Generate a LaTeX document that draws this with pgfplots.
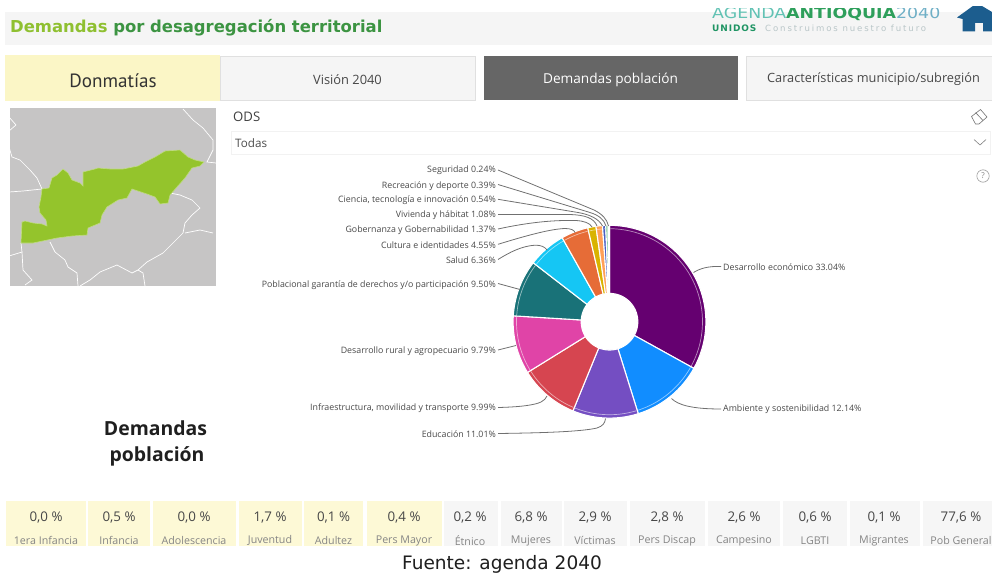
\documentclass[border=0pt]{standalone}
\usepackage{pgfplots}
\pgfplotsset{compat=1.18}
\usepackage{fontspec}
\setmainfont{Open Sans}
\newfontfamily\dejavu{DejaVu Sans}
\newfontfamily\pts{PT Sans}
\definecolor{cA}{HTML}{650070}
\definecolor{cB}{HTML}{118DFF}
\definecolor{cC}{HTML}{744EC2}
\definecolor{cD}{HTML}{D64550}
\definecolor{cE}{HTML}{E044A7}
\definecolor{cF}{HTML}{197278}
\definecolor{cG}{HTML}{15C6F4}
\definecolor{cH}{HTML}{E66C37}
\definecolor{cI}{HTML}{D9B300}
\definecolor{cJ}{HTML}{FFA058}
\definecolor{cK}{HTML}{4A5FC2}
\definecolor{cL}{HTML}{6FBF8F}
\definecolor{cM}{HTML}{9FD0D6}
\definecolor{lbl}{HTML}{484848}
\definecolor{lead}{HTML}{707070}
\definecolor{ygreen}{HTML}{8FC031}
\definecolor{dgreen}{HTML}{3C9442}
\definecolor{paleY}{HTML}{FBF6C6}
\definecolor{cardY}{HTML}{FDF9D6}
\definecolor{cardG}{HTML}{F6F6F6}
\definecolor{mapgrey}{HTML}{C6C5C5}
\definecolor{mapgreen}{HTML}{94C42C}
\definecolor{homeblue}{HTML}{1C5D8E}
% start (cumulative percent), share (percent), colour: the shares are the chart's values
\newcommand{\slice}[3]{%
  \addplot[fill=#3,draw=white,line width=1.1pt,domain=0:2.025,samples=82,variable=\t]
   ({609.5+(\t<1.02?96.4:28.3)*sin(3.6*(#1+#2*(\t<1.02?\t:2.025-\t)))},
    {321.7-(\t<1.02?96.4:28.3)*cos(3.6*(#1+#2*(\t<1.02?\t:2.025-\t)))}) -- cycle;
  \addplot[white,opacity=.55,line width=.7pt,domain=0:1,samples=40,variable=\t]
   ({609.5+93*sin(3.6*(#1+0.15+(#2-0.3)*\t))},{321.7-93*cos(3.6*(#1+0.15+(#2-0.3)*\t))});
}
\newcommand{\card}[6]{% x0 x1 colour value label centre
  \fill[#3] (#1,501) rectangle (#2,545.6);
  \node[font=\fontsize{13.4}{14}\selectfont,text=black!72] at (#6,518) {#4};
  \node[font=\fontsize{10.7}{12}\selectfont,text=black!48] at (#6,540.5) {#5};
}
\newcommand{\lab}[3]{\node[anchor=east,inner sep=0,font=\fontsize{8.85}{10}\selectfont,text=lbl] at (#1,#2+0.7) {#3};}
\begin{document}
\begin{tikzpicture}
\begin{axis}[hide axis,scale only axis,width=992bp,height=573bp,
  xmin=0,xmax=992,ymin=0,ymax=573,y dir=reverse,axis on top=false]
% header
\fill[black!4] (5,12) rectangle (992,45.5);
\node[anchor=west,inner sep=0,font=\dejavu\bfseries\fontsize{16.5}{18}\selectfont] at (10,27.5)
  {\textcolor{ygreen}{Demandas} \textcolor{dgreen}{por desagregación territorial}};
% logo
\node[anchor=base west,inner sep=0,font=\dejavu\fontsize{15}{16}\selectfont] at (712,18.5)
  {\scalebox{1.163}[1]{\textcolor[HTML]{62C2B4}{AGENDA}\textcolor[HTML]{2E9F5B}{\bfseries ANTIOQUIA}\textcolor[HTML]{6FAFC6}{2040}}};
\node[anchor=base west,inner sep=0,font=\dejavu\fontsize{9}{10}\selectfont] at (712,31.5)
  {\addfontfeature{LetterSpace=10}\textcolor[HTML]{1E9463}{\bfseries UNIDOS}};
\node[anchor=base west,inner sep=0,font=\dejavu\fontsize{8.6}{10}\selectfont] at (765,31.5)
  {\addfontfeature{LetterSpace=22}\textcolor[HTML]{B9C6C8}{Construimos nuestro futuro}};
% home icon
\fill[homeblue] (957,17.5) -- (977,3) -- (992,12) -- (992,31.5) -- (983,31.5) -- (983,23) -- (975,23) -- (975,31.5) -- (962.5,31.5) -- (962.5,19) -- cycle;
\fill[white] (950,0) rectangle (992,6.5);
\fill[white] (700,0) rectangle (950,8);
% tabs
\fill[paleY] (5,55) rectangle (220,101.5);
\node[font=\pts\fontsize{19.2}{20}\selectfont,text=black!80] at (113,81) {Donmatías};
\filldraw[fill=black!4,draw=black!12,line width=.6pt] (220.5,56) rectangle (475.5,100);
\node[font=\fontsize{12.9}{14}\selectfont,text=black!72] at (347.5,79.5) {Visión 2040};
\fill[black!60] (484,56) rectangle (738,100);
\node[font=\fontsize{13.7}{15}\selectfont,text=white] at (610.5,79.5) {Demandas población};
\filldraw[fill=black!4,draw=black!12,line width=.6pt] (746.5,56) rectangle (993,100);
\node[font=\fontsize{12.8}{14}\selectfont,text=black!72] at (873.5,79.5) {Características municipio/subregión};
% filter
\node[anchor=west,inner sep=0,font=\fontsize{13.2}{15}\selectfont,text=black!75] at (233,117) {ODS};
\draw[black!5,line width=.8pt] (231,131) rectangle (990,154);
\node[anchor=west,inner sep=0,font=\fontsize{11.7}{13}\selectfont,text=black!70] at (235,143.5) {Todas};
\draw[black!50,line width=.6pt] (974,139.5) -- (980,145) -- (986,139.5);
\draw[black!55,line width=.6pt] (971.5,116.5) -- (980.5,109.5) -- (987,117) -- (979,124) -- (975.5,124) -- cycle (975.5,112.5) -- (983,120.5);
\draw[black!40,line width=.6pt] (983,176) circle[radius=6.2];
\node[font=\fontsize{8}{9}\selectfont,text=black!50] at (983,176) {?};
% map
\fill[mapgrey] (9.5,108.5) rectangle (216,286);
\addplot[white,line width=.7pt] coordinates {(183,109)(193,120)(203,128)(213,140)(213,150)(207,162)(216,163)};
\addplot[white,line width=.7pt] coordinates {(9,117)(16,125)(9,131)};
\addplot[white,line width=.7pt] coordinates {(9,147)(12,157)(20,160)(30,170)(37,178)(42,189)};
\addplot[white,line width=.7pt] coordinates {(9,192)(23,191)(42,189)};
\addplot[white,line width=.7pt] coordinates {(21,243)(22,252)(9,256)};
\addplot[white,line width=.7pt] coordinates {(22,252)(23,270)(32,280)(25,285)};
\addplot[white,line width=.7pt] coordinates {(50,242)(55,252)(65,260)(68,267)(77,273)(78,286)};
\addplot[white,line width=.7pt] coordinates {(80,286)(90,280)(100,272)(117,265)(132,273)(138,270)(143,273)(145,286)};
\addplot[white,line width=.7pt] coordinates {(138,270)(147,262)(163,253)(173,243)(183,233)(185,223)(192,215)(200,208)(192,200)(180,195)(170,193)};
\addplot[white,line width=.7pt] coordinates {(185,233)(200,230)(213,233)};
\addplot[fill=mapgreen,draw=white!40!mapgreen,line width=.6pt] coordinates {
 (21,243)(22,222)(25,221)(33,223)(42,224)(47,226)(46,220)(40,213)(39,207)(41,197)(42,189)(49,188)(52,178)(57,175)(63,169)(68,173)(72,180)(80,183)(83,186)(83,172)(95,169)(98,168)(110,169)(123,169)(138,166)(145,162)(155,157)(165,151)(180,150)(188,157)(195,160)(204,162)(200,166)(192,168)(185,178)(177,187)(170,195)(168,203)(160,204)(155,197)(147,194)(132,189)(127,198)(118,200)(107,207)(102,215)(100,223)(88,228)(87,235)(72,236)(57,238)(33,243)(21,243)} -- cycle;
% donut: start, share
\slice{0}{33.04}{cA}
\slice{33.04}{12.14}{cB}
\slice{45.18}{11.01}{cC}
\slice{56.19}{9.99}{cD}
\slice{66.18}{9.79}{cE}
\slice{75.97}{9.50}{cF}
\slice{85.47}{6.36}{cG}
\slice{91.83}{4.55}{cH}
\slice{96.38}{1.37}{cI}
\slice{97.75}{1.08}{cJ}
\slice{98.83}{0.54}{cK}
\slice{99.37}{0.39}{cL}
\slice{99.76}{0.24}{cM}
% leaders
\begin{scope}[lead,line width=.8pt]
\draw (498,170) -- (594,210) .. controls (602,214) and (607,219) .. (608.5,226);
\draw (498,184.5) -- (590,212.5) .. controls (598,215) and (604,219) .. (606,226);
\draw (498,199.3) -- (578,212.5) .. controls (590,214.5) and (599,219) .. (602.5,226);
\draw (498,214.5) -- (570,214.5) .. controls (585,215) and (594,218) .. (597,226);
\draw (498,229) .. controls (530,222) and (555,220) .. (576,220.5) .. controls (584,221) and (590,223) .. (592,227);
\draw (498,244.3) .. controls (525,236) and (550,229) .. (565,228.5) .. controls (571,228.5) and (574,230) .. (575,232.5);
\draw (498,259.5) .. controls (510,252) and (522,246) .. (535,245.2) .. controls (541,245) and (545,247) .. (547,250);
\draw (498,283.5) -- (520,289.5);
\draw (498,350) -- (516,345.5);
\draw (498,407.5) .. controls (520,407) and (535,405) .. (541,402) .. controls (544,400.5) and (546,398.5) .. (547,396);
\draw (498,433.5) .. controls (535,433) and (580,432) .. (597,428) .. controls (603,426) and (605,423) .. (605.5,418.5);
\draw (693.5,272.5) .. controls (700,268.5) and (708,266) .. (721,266.5);
\draw (671.5,398.5) .. controls (678,405) and (692,409) .. (721,409);
\end{scope}
% labels
\lab{496}{170}{Seguridad 0.24\%}
\lab{496}{185}{Recreación y deporte 0.39\%}
\lab{496}{199.5}{Ciencia, tecnología e innovación 0.54\%}
\lab{496}{214.5}{Vivienda y hábitat 1.08\%}
\lab{496}{229.5}{Gobernanza y Gobernabilidad 1.37\%}
\lab{496}{244.5}{Cultura e identidades 4.55\%}
\lab{496}{259.5}{Salud 6.36\%}
\lab{496}{284}{Poblacional garantía de derechos y/o participación 9.50\%}
\lab{496}{350.5}{Desarrollo rural y agropecuario 9.79\%}
\lab{496}{407.5}{Infraestructura, movilidad y transporte 9.99\%}
\lab{496}{433.5}{Educación 11.01\%}
\node[anchor=west,inner sep=0,font=\fontsize{8.85}{10}\selectfont,text=lbl] at (723,267.5) {Desarrollo económico 33.04\%};
\node[anchor=west,inner sep=0,font=\fontsize{8.85}{10}\selectfont,text=lbl] at (723,409) {Ambiente y sostenibilidad 12.14\%};
% side title
\node[font=\bfseries\fontsize{19.5}{21}\selectfont,text=black!88] at (155.5,428.5) {Demandas};
\node[font=\bfseries\fontsize{19.5}{21}\selectfont,text=black!88] at (157,456.5) {población};
% cards
\card{6}{86}{cardY}{0,0 \%}{1era Infancia}{46}
\card{88}{150}{cardY}{0,5 \%}{Infancia}{119}
\card{153}{236}{cardY}{0,0 \%}{Adolescencia}{194}
\card{239}{302}{cardY}{1,7 \%}{Juventud}{270}
\card{304}{363}{cardY}{0,1 \%}{Adultez}{333.5}
\card{367}{442}{cardY}{0,4 \%}{Pers Mayor}{404}
\card{444}{498}{cardG}{0,2 \%}{Étnico}{470}
\card{501}{562}{cardG}{6,8 \%}{Mujeres}{531}
\card{564}{627}{cardG}{2,9 \%}{Víctimas}{595}
\card{630}{705}{cardG}{2,8 \%}{Pers Discap}{667}
\card{708}{780}{cardG}{2,6 \%}{Campesino}{744}
\card{783}{847}{cardG}{0,6 \%}{LGBTI}{815}
\card{850}{920}{cardG}{0,1 \%}{Migrantes}{884}
\card{923}{992}{cardG}{77,6 \%}{Pob General}{961}
\fill[white] (0,545.6) rectangle (992,573);
\node[font=\dejavu\fontsize{18.6}{20}\selectfont,text=black!88] at (502,564) {Fuente: agenda 2040};
\end{axis}
\end{tikzpicture}
\end{document}
